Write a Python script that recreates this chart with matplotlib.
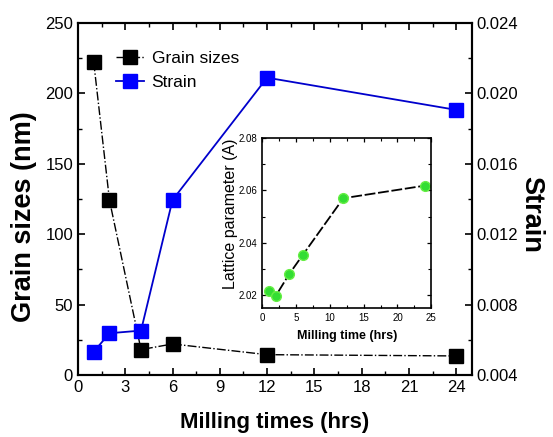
import matplotlib
matplotlib.use("Agg")
import matplotlib.pyplot as plt
from matplotlib.ticker import MultipleLocator

plt.rcParams['font.family'] = ['Liberation Sans', 'DejaVu Sans']

time_hrs = [1, 2, 4, 6, 12, 24]
grain_sizes = [222, 124, 18, 22, 14.4, 13.5]
strain = [0.00532, 0.00637, 0.00652, 0.01394, 0.02089, 0.01906]
lattice = [2.0215, 2.0196, 2.028, 2.0353, 2.057, 2.0618]

fig = plt.figure(figsize=(5.53, 4.37), dpi=100)
ax = fig.add_axes([0.141, 0.142, 0.7125, 0.8055])
ax2 = ax.twinx()

l1, = ax.plot(time_hrs, grain_sizes, color='black', linestyle='-.', linewidth=1.0,
              marker='s', markersize=9.5, markerfacecolor='black', label='Grain sizes')
l2, = ax2.plot(time_hrs, strain, color='#0000cc', linestyle='-', linewidth=1.3,
               marker='s', markersize=9.5, markerfacecolor='#0000ff', markeredgecolor='#0000ff',
               label='Strain')

ax.set_xlim(0, 25)
ax.set_ylim(0, 250)
ax2.set_ylim(0.004, 0.024)
ax.xaxis.set_major_locator(MultipleLocator(3))
ax.xaxis.set_minor_locator(MultipleLocator(1.5))
ax.yaxis.set_major_locator(MultipleLocator(50))
ax.yaxis.set_minor_locator(MultipleLocator(25))
ax2.set_yticks([0.004, 0.008, 0.012, 0.016, 0.020, 0.024])
ax2.set_yticklabels(['0.004', '0.008', '0.012', '0.016', '0.020', '0.024'])
ax2.yaxis.set_minor_locator(MultipleLocator(0.002))

ax.tick_params(axis='both', which='both', direction='in', top=True, labelsize=12)
ax.tick_params(which='major', length=5, width=1.2)
ax.tick_params(which='minor', length=3, width=1.0)
ax2.tick_params(axis='y', which='both', direction='in', labelsize=12)
ax2.tick_params(which='major', length=5, width=1.2)
ax2.tick_params(which='minor', length=3, width=1.0)
for a in (ax, ax2):
    for s in a.spines.values():
        s.set_linewidth(1.5)

ax.set_xlabel('Milling times (hrs)', fontsize=16, fontweight='bold')
ax.xaxis.set_label_coords(0.5, -0.105)
ax.set_ylabel('Grain sizes (nm)', fontsize=19.5, fontweight='bold')
ax.yaxis.set_label_coords(-0.105, 0.45)
ax2.set_ylabel('Strain', fontsize=19.5, fontweight='bold', rotation=270, va='center')
ax2.yaxis.set_label_coords(1.15, 0.457)

ax.legend(handles=[l1, l2], loc='upper left', bbox_to_anchor=(0.07, 0.95),
          frameon=False, fontsize=12.5, handlelength=1.6, handletextpad=0.45,
          labelspacing=0.5, borderaxespad=0.2)

# inset
axi = fig.add_axes([0.474, 0.295, 0.306, 0.389])
axi.plot(time_hrs, lattice, color='black', linestyle=(0, (6, 1.5)), linewidth=1.3,
         marker='o', markersize=7, markerfacecolor='#33dd33', markeredgecolor='#66ee44')
axi.set_xlim(0, 25)
axi.set_ylim(2.015, 2.08)
axi.xaxis.set_major_locator(MultipleLocator(5))
axi.xaxis.set_minor_locator(MultipleLocator(2.5))
axi.set_yticks([2.02, 2.04, 2.06, 2.08])
axi.yaxis.set_minor_locator(MultipleLocator(0.01))
axi.tick_params(axis='both', which='both', direction='in', top=True, right=True,
                labelsize=7)
axi.tick_params(which='major', length=3, width=0.9)
axi.tick_params(which='minor', length=2, width=0.8)
for s in axi.spines.values():
    s.set_linewidth(1.2)
axi.set_xlabel('Milling time (hrs)', fontsize=9, fontweight='bold', labelpad=5)
axi.set_ylabel('Lattice parameter (A)', fontsize=11.5)
axi.yaxis.set_label_coords(-0.142, 0.553)

fig.savefig('out.png', dpi=100)
